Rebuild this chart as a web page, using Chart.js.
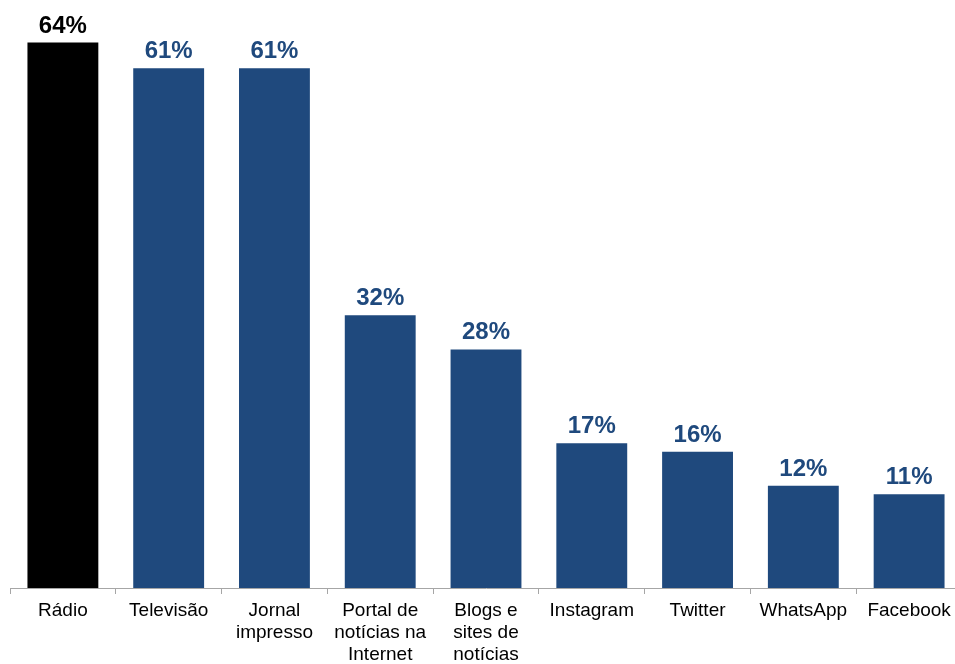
<!DOCTYPE html>
<html><head><meta charset="utf-8">
<script src="https://cdn.jsdelivr.net/npm/chart.js@4"></script>
<style>html,body{margin:0;padding:0;overflow:hidden;background:#fff}#wrap{width:962px;height:664px}</style>
</head><body><div id="wrap"><canvas id="c" width="962" height="664"></canvas></div>
<script>
const categories = ["Rádio","Televisão",["Jornal","impresso"],["Portal de","notícias na","Internet"],["Blogs e","sites de","notícias"],"Instagram","Twitter","WhatsApp","Facebook"];
const values = [64,61,61,32,28,17,16,12,11];
const BLUE = "#1F497D";
const barColors = values.map((v,i)=> i===0 ? "#000000" : BLUE);

const labelPlugin = {
  id:'labels',
  afterDatasetsDraw(chart){
    const ctx = chart.ctx;
    const meta = chart.getDatasetMeta(0);
    ctx.save();
    ctx.font = "bold 24px 'Liberation Sans', Arial, sans-serif";
    ctx.textAlign = 'center';
    ctx.textBaseline = 'alphabetic';
    meta.data.forEach((bar,i)=>{
      ctx.fillStyle = barColors[i];
      ctx.fillText(values[i] + '%', bar.x, bar.y - 10);
    });
    ctx.restore();
  }
};

new Chart(document.getElementById('c'), {
  type:'bar',
  data:{labels:categories, datasets:[{data:values, backgroundColor:barColors, barPercentage:0.67, categoryPercentage:1}]},
  options:{
    responsive:false, animation:false,
    layout:{padding:{left:10,right:0,top:0,bottom:0}},
    plugins:{legend:{display:false}, tooltip:{enabled:false}},
    scales:{
      x:{
        grid:{display:true, drawOnChartArea:false, drawTicks:true, tickLength:6, color:'#A6A6A6', offset:true},
        border:{display:true, color:'#A6A6A6', width:1},
        ticks:{color:'#000', font:{family:"'Liberation Sans', Arial, sans-serif", size:19, lineHeight:1.15}, padding:6, maxRotation:0, autoSkip:false},
        afterFit(scale){ scale.height = 76; }
      },
      y:{display:false, min:0, max:69}
    }
  },
  plugins:[labelPlugin]
});
</script></body></html>
